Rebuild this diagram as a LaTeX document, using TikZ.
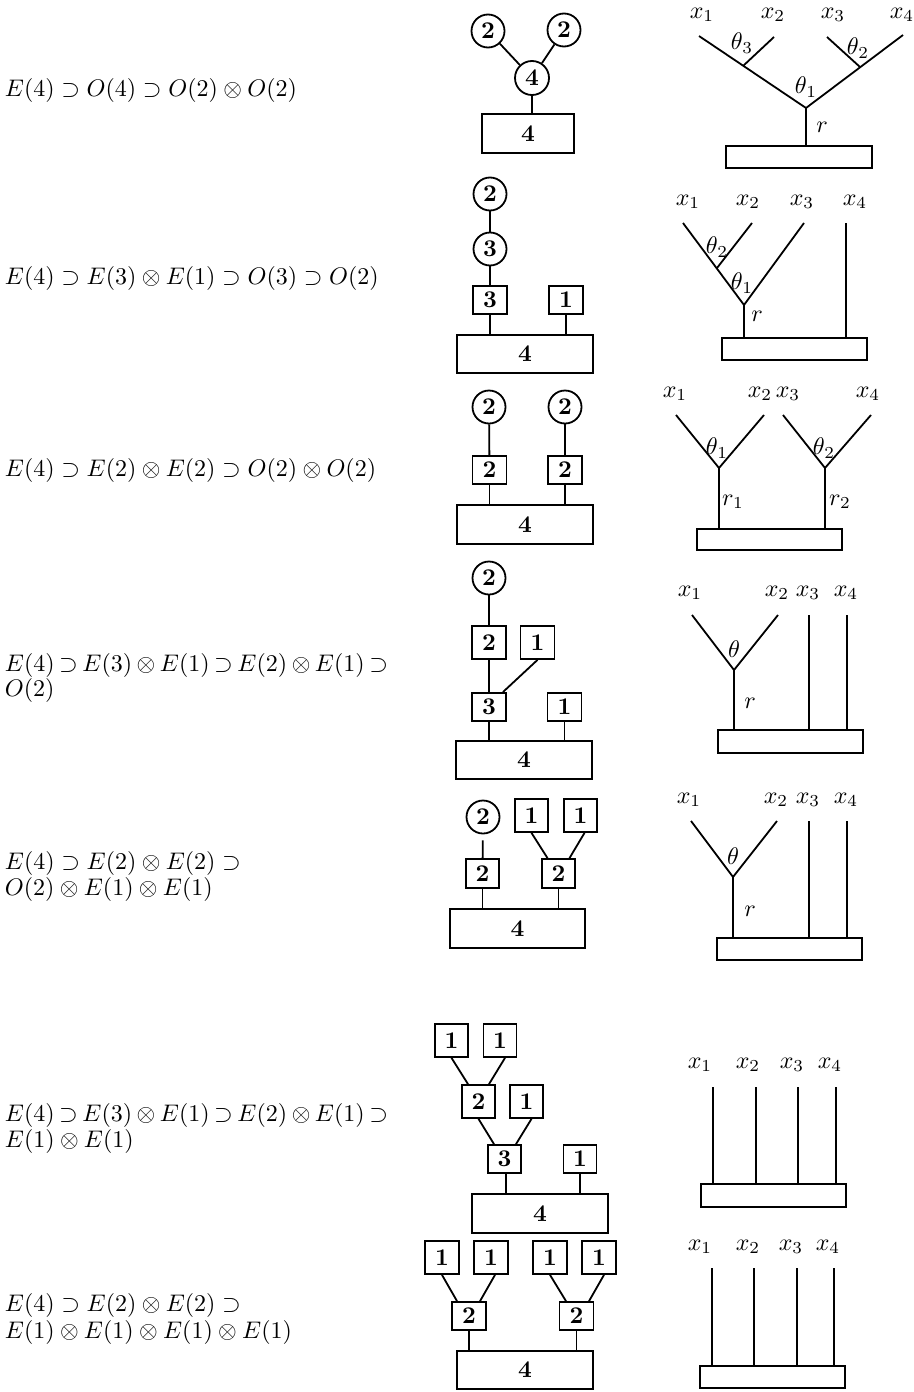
\documentclass[tikz,border=0pt]{standalone}
\usepackage{graphicx}
\newcommand{\Sc}[1]{\scalebox{2.4}{#1}}
\newcommand{\Bd}[1]{\scalebox{2.4}{\bfseries #1}}
\newcommand{\Wide}[1]{\scalebox{2.4}{\hbox to 159.6pt{\medmuskip=0mu plus 1fil\thickmuskip=0mu plus 1fil$#1$}}}
\begin{document}
\begin{tikzpicture}[x=1pt,y=-1pt,line width=1.8pt,
  circ/.style={circle,draw,minimum size=33pt,inner sep=0pt},
  sq/.style={rectangle,draw,minimum width=34pt,minimum height=29pt,inner sep=0pt},
  sqt/.style={sq,minimum height=33pt},
  big/.style={rectangle,draw,minimum width=136pt,minimum height=38pt,inner sep=0pt},
  base/.style={rectangle,draw,minimum width=145pt,minimum height=22pt,inner sep=0pt},
  eq/.style={anchor=west,inner sep=0pt},
  lab/.style={inner sep=0pt}]
\useasboundingbox (0,0) rectangle (913,1392);

% ---------------- left equations
\node[eq] (e1) at (4,90) {\Sc{$E(4)\supset O(4)\supset O(2)\otimes O(2)$}};
\node[eq] (e2) at (4,278) {\Sc{$E(4)\supset E(3)\otimes E(1)\supset O(3)\supset O(2)$}};
\node[eq] (e3) at (4,470) {\Sc{$E(4)\supset E(2)\otimes E(2)\supset O(2)\otimes O(2)$}};
\node[eq] (e4a) at (4,665) {\Wide{E(4)\supset E(3)\otimes E(1)\supset E(2)\otimes E(1)\supset}};
\node[eq] (e4b) at (4,690) {\Sc{$O(2)$}};
\node[eq] (e5a) at (4,863) {\Sc{$E(4)\supset E(2)\otimes E(2)\supset$}};
\node[eq] (e5b) at (4,889) {\Sc{$O(2)\otimes E(1)\otimes E(1)$}};
\node[eq] (e6a) at (4,1115) {\Wide{E(4)\supset E(3)\otimes E(1)\supset E(2)\otimes E(1)\supset}};
\node[eq] (e6b) at (4,1141) {\Sc{$E(1)\otimes E(1)$}};
\node[eq] (e7a) at (4,1305) {\Sc{$E(4)\supset E(2)\otimes E(2)\supset$}};
\node[eq] (e7b) at (4,1332) {\Sc{$E(1)\otimes E(1)\otimes E(1)\otimes E(1)$}};

% ---------------- row 1 diagram
\node[circ] (a1) at (488,31) {\Bd{2}};
\node[circ] (a2) at (564,30) {\Bd{2}};
\node[circ,minimum size=34pt] (a3) at (532,78) {\Bd{4}};
\node[big,minimum width=92pt,minimum height=39pt] (a4) at (528,133.5) {\Bd{4}};
\draw (a1) -- (a3); \draw (a2) -- (a3);
\draw (a3) -- (a3 |- a4.north);

% ---------------- row 2 diagram
\node[circ] (b1) at (490,194) {\Bd{2}};
\node[circ] (b2) at (490,249) {\Bd{3}};
\node[sq,minimum height=28pt] (b3) at (490,300) {\Bd{3}};
\node[sq,minimum height=28pt] (b4) at (566,300) {\Bd{1}};
\node[big] (b5) at (525,354) {\Bd{4}};
\draw (b1) -- (b2); \draw (b2) -- (b3);
\draw (b3.south) -- (b3.south |- b5.north);
\draw (b4.south) -- (b4.south |- b5.north);

% ---------------- row 3 diagram
\node[circ] (c1) at (489,407) {\Bd{2}};
\node[circ] (c2) at (565,407) {\Bd{2}};
\node[sq,minimum height=28pt] (c3) at (489.5,470) {\Bd{2}};
\node[sq,minimum height=28pt] (c4) at (565,470) {\Bd{2}};
\node[big,minimum height=39pt] (c5) at (525,524.5) {\Bd{4}};
\draw (c1) -- (c3); \draw (c2) -- (c4);
\draw (c3.south) -- (c3.south |- c5.north);
\draw (c4.south) -- (c4.south |- c5.north);

% ---------------- row 4 diagram
\node[circ] (d1) at (489,578) {\Bd{2}};
\node[sqt] (d2) at (489,642.5) {\Bd{2}};
\node[sqt] (d3) at (537.5,642.5) {\Bd{1}};
\node[sq,minimum height=28pt] (d4) at (489,707) {\Bd{3}};
\node[sq,minimum height=28pt] (d5) at (564.5,707) {\Bd{1}};
\node[big] (d6) at (524,760) {\Bd{4}};
\draw (d1) -- (d2); \draw (d2) -- (d4);
\draw (d3.south) -- ([xshift=-4pt]d4.north east);
\draw (d4.south) -- (d4.south |- d6.north);
\draw (d5.south) -- (d5.south |- d6.north);

% ---------------- row 5 diagram
\node[circ] (f1) at (483,817) {\Bd{2}};
\node[sqt,minimum width=33pt] (f2) at (531.5,815.5) {\Bd{1}};
\node[sqt,minimum width=33pt] (f3) at (580.5,815.5) {\Bd{1}};
\node[sq,minimum width=33pt] (f4) at (482.5,873.5) {\Bd{2}};
\node[sq,minimum width=33pt] (f5) at (558.5,873.5) {\Bd{2}};
\node[big,minimum width=135pt,minimum height=39pt] (f6) at (517.5,928.5) {\Bd{4}};
\draw[shorten <=6pt] (f1) -- (f4);
\draw (f2.south) -- ([xshift=-11pt]f5.north);
\draw ([xshift=4pt]f3.south) -- ([xshift=11pt]f5.north);
\draw (f4.south) -- (f4.south |- f6.north);
\draw (f5.south) -- (f5.south |- f6.north);

% ---------------- row 6 diagram
\node[sqt,minimum width=33pt] (g1) at (451.5,1040.5) {\Bd{1}};
\node[sqt,minimum width=33pt] (g2) at (500,1040.5) {\Bd{1}};
\node[sqt,minimum width=33pt] (g3) at (478.5,1101.5) {\Bd{2}};
\node[sqt,minimum width=33pt] (g4) at (526.5,1101.5) {\Bd{1}};
\node[sq,minimum width=33pt,minimum height=28pt] (g5) at (504.5,1159) {\Bd{3}};
\node[sq,minimum width=33pt,minimum height=28pt] (g6) at (580,1159) {\Bd{1}};
\node[big,minimum height=39pt] (g7) at (540,1213.5) {\Bd{4}};
\draw (g1.south) -- ([xshift=-10.5pt]g3.north);
\draw ([xshift=5pt]g2.south) -- ([xshift=10.5pt]g3.north);
\draw (g3.south) -- ([xshift=-10.5pt]g5.north);
\draw ([xshift=5pt]g4.south) -- ([xshift=11.5pt]g5.north);
\draw ([xshift=1.5pt]g5.south) -- ([xshift=1.5pt]g5.south |- g7.north);
\draw (g6.south) -- (g6.south |- g7.north);

% ---------------- row 7 diagram
\node[sqt] (h1) at (442,1257.5) {\Bd{1}};
\node[sqt] (h2) at (491,1257.5) {\Bd{1}};
\node[sqt] (h3) at (550,1257.5) {\Bd{1}};
\node[sqt] (h4) at (599,1257.5) {\Bd{1}};
\node[sq,minimum height=28pt] (h5) at (469,1316) {\Bd{2}};
\node[sq,minimum height=28pt] (h6) at (576.5,1316) {\Bd{2}};
\node[big] (h7) at (525,1370) {\Bd{4}};
\draw (h1.south) -- ([xshift=-12pt]h5.north);
\draw ([xshift=4pt]h2.south) -- ([xshift=11pt]h5.north);
\draw (h3.south) -- ([xshift=-10.5pt]h6.north);
\draw ([xshift=5pt]h4.south) -- ([xshift=12.5pt]h6.north);
\draw (h5.south) -- (h5.south |- h7.north);
\draw (h6.south) -- (h6.south |- h7.north);

% ---------------- row 1 tree
\node[lab] (p1x1) at (702,15) {\Sc{$x_1$}};
\node[lab] (p1x2) at (773,15) {\Sc{$x_2$}};
\node[lab] (p1x3) at (833,15) {\Sc{$x_3$}};
\node[lab] (p1x4) at (902,15) {\Sc{$x_4$}};
\coordinate (p1a) at (699,36);
\coordinate (p1b) at (774,37);
\coordinate (p1c) at (827,37);
\coordinate (p1d) at (903,35);
\coordinate (p1v) at (806,108);
\coordinate (p1p) at (743,66);
\coordinate (p1q) at (860,67);
\node[base,minimum width=146pt] (p1box) at (799,157) {};
\draw (p1a) -- (p1v) -- (p1d);
\draw (p1b) -- (p1p); \draw (p1c) -- (p1q);
\draw (p1v) -- (p1v |- p1box.north);
\node[lab] (p1t3) at (742,43) {\Sc{$\theta_3$}};
\node[lab] (p1t2) at (858,48) {\Sc{$\theta_2$}};
\node[lab] (p1t1) at (806,87) {\Sc{$\theta_1$}};
\node[lab] (p1r) at (822,127) {\Sc{$r$}};

% ---------------- row 2 tree
\node[lab] (p2x1) at (688,202) {\Sc{$x_1$}};
\node[lab] (p2x2) at (748,202) {\Sc{$x_2$}};
\node[lab] (p2x3) at (802,202) {\Sc{$x_3$}};
\node[lab] (p2x4) at (855,202) {\Sc{$x_4$}};
\coordinate (p2a) at (683,223);
\coordinate (p2b) at (752,223);
\coordinate (p2c) at (804,223);
\coordinate (p2d) at (846,223);
\coordinate (p2v) at (744,305);
\coordinate (p2p) at (717,268);
\node[base] (p2box) at (794.5,349) {};
\draw (p2a) -- (p2v) -- (p2c);
\draw (p2b) -- (p2p);
\draw (p2v) -- (p2v |- p2box.north);
\draw (p2d) -- (p2d |- p2box.north);
\node[lab] (p2t2) at (717,247) {\Sc{$\theta_2$}};
\node[lab] (p2t1) at (742,283) {\Sc{$\theta_1$}};
\node[lab] (p2r) at (757,316) {\Sc{$r$}};

% ---------------- row 3 tree
\node[lab] (p3x1) at (675,394) {\Sc{$x_1$}};
\node[lab] (p3x2) at (760,394) {\Sc{$x_2$}};
\node[lab] (p3x3) at (788,394) {\Sc{$x_3$}};
\node[lab] (p3x4) at (868,394) {\Sc{$x_4$}};
\coordinate (p3a) at (676,415);
\coordinate (p3b) at (764,415);
\coordinate (p3c) at (783,415);
\coordinate (p3d) at (871,415);
\coordinate (p3v) at (719,468);
\coordinate (p3w) at (825,468);
\node[base,minimum height=21pt] (p3box) at (769.5,539.5) {};
\draw (p3a) -- (p3v) -- (p3b);
\draw (p3c) -- (p3w) -- (p3d);
\draw (p3v) -- (p3v |- p3box.north);
\draw (p3w) -- (p3w |- p3box.north);
\node[lab] (p3t1) at (717,448) {\Sc{$\theta_1$}};
\node[lab] (p3t2) at (824,448) {\Sc{$\theta_2$}};
\node[lab] (p3r1) at (733,502) {\Sc{$r_1$}};
\node[lab] (p3r2) at (840,502) {\Sc{$r_2$}};

% ---------------- row 4 tree
\node[lab] (p4x1) at (690,593) {\Sc{$x_1$}};
\node[lab] (p4x2) at (777,593) {\Sc{$x_2$}};
\node[lab] (p4x3) at (808,593) {\Sc{$x_3$}};
\node[lab] (p4x4) at (846,593) {\Sc{$x_4$}};
\coordinate (p4a) at (692,615);
\coordinate (p4b) at (778,615);
\coordinate (p4c) at (809,615);
\coordinate (p4d) at (847,615);
\coordinate (p4v) at (734,670);
\node[base,minimum height=23pt] (p4box) at (790.5,741.5) {};
\draw (p4a) -- (p4v) -- (p4b);
\draw (p4v) -- (p4v |- p4box.north);
\draw (p4c) -- (p4c |- p4box.north);
\draw (p4d) -- (p4d |- p4box.north);
\node[lab] (p4t) at (734,649) {\Sc{$\theta$}};
\node[lab] (p4r) at (750,703) {\Sc{$r$}};

% ---------------- row 5 tree
\node[lab] (p5x1) at (689,800) {\Sc{$x_1$}};
\node[lab] (p5x2) at (776,800) {\Sc{$x_2$}};
\node[lab] (p5x3) at (808,800) {\Sc{$x_3$}};
\node[lab] (p5x4) at (846,800) {\Sc{$x_4$}};
\coordinate (p5a) at (691,821);
\coordinate (p5b) at (777,821);
\coordinate (p5c) at (809,821);
\coordinate (p5d) at (847,821);
\coordinate (p5v) at (733,877);
\node[base] (p5box) at (789.5,949) {};
\draw (p5a) -- (p5v) -- (p5b);
\draw (p5v) -- (p5v |- p5box.north);
\draw (p5c) -- (p5c |- p5box.north);
\draw (p5d) -- (p5d |- p5box.north);
\node[lab] (p5t) at (733,856) {\Sc{$\theta$}};
\node[lab] (p5r) at (750,911) {\Sc{$r$}};

% ---------------- row 6 tree
\node[lab] (p6x1) at (700,1065) {\Sc{$x_1$}};
\node[lab] (p6x2) at (748,1065) {\Sc{$x_2$}};
\node[lab] (p6x3) at (792,1065) {\Sc{$x_3$}};
\node[lab] (p6x4) at (830,1065) {\Sc{$x_4$}};
\coordinate (p6a) at (713,1087);
\coordinate (p6b) at (756,1087);
\coordinate (p6c) at (798,1087);
\coordinate (p6d) at (836,1087);
\node[base,minimum height=23pt] (p6box) at (773.5,1195.5) {};
\draw (p6a) -- (p6a |- p6box.north);
\draw (p6b) -- (p6b |- p6box.north);
\draw (p6c) -- (p6c |- p6box.north);
\draw (p6d) -- (p6d |- p6box.north);

% ---------------- row 7 tree
\node[lab] (p7x1) at (700,1247) {\Sc{$x_1$}};
\node[lab] (p7x2) at (748,1247) {\Sc{$x_2$}};
\node[lab] (p7x3) at (791,1247) {\Sc{$x_3$}};
\node[lab] (p7x4) at (828,1247) {\Sc{$x_4$}};
\coordinate (p7a) at (712,1268);
\coordinate (p7b) at (754,1268);
\coordinate (p7c) at (797,1268);
\coordinate (p7d) at (834,1268);
\node[base] (p7box) at (772.5,1377) {};
\draw (p7a) -- (p7a |- p7box.north);
\draw (p7b) -- (p7b |- p7box.north);
\draw (p7c) -- (p7c |- p7box.north);
\draw (p7d) -- (p7d |- p7box.north);
\end{tikzpicture}
\end{document}
